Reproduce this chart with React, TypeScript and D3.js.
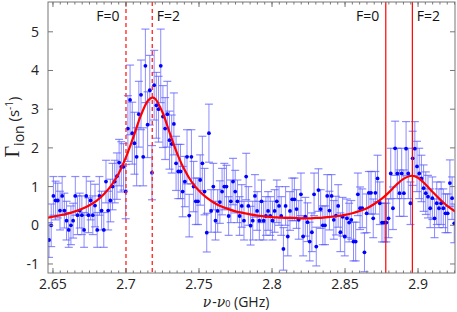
import * as d3 from 'd3';

// scan data: ionisation rate vs detuning (GHz), equal frequency steps
const freqStart = 2.6473;
const freqStep = 0.0015;

const rate = [
  -0.38, 0.0, 0.76, 0.64, 0.64, 0.38, 0.76, 0.38, 0.12, -0.12,
  0.0, 0.12, 0.76, 0.26, 0.38, 0.26, -0.12, 0.76, 0.26, 0.64,
  0.26, 0.51, -0.12, 0.76, 0.38, -0.12, 1.13, 0.38, 0.64, 1.0,
  1.13, 1.27, 1.62, 1.51, 1.51, 0.87, 2.5, 3.24, 2.38, 2.12,
  1.77, 2.87, 3.37, 1.77, 4.12, 2.6, 3.49, 1.36, 3.62, 3.1,
  3.0, 4.12, 2.81, 2.5, 2.87, 2.2, 2.1, 2.62, 1.6, 1.39,
  1.39, 0.87, 1.13, 1.77, 0.25, 1.77, 1.0, 0.62, 0.62, 1.17,
  1.6, 0.87, -0.19, 2.38, 0.37, 1.0, 0.12, 0.37, 0.6, 0.87,
  1.0, 1.0, 0.24, 0.62, 1.13, 0.87, 0.62, 0.24, 0.5, 0.12,
  1.26, 0.5, -0.01, 0.12, 0.76, 0.37, 0.12, 0.62, 0.12, 0.24,
  0.37, 0.24, 0.12, 0.37, 0.62, 0.5, 0.24, -0.61, 0.5, -0.29,
  0.37, 0.67, 0.67, 0.42, 0.14, 0.8, -0.29, 0.22, 0.08, -0.42,
  -0.18, 0.8, -0.55, 0.91, 0.42, 0.0, 0.0, 0.76, 0.38, 0.76,
  0.14, 0.25, 0.5, -0.18, 0.22, -0.29, 0.18, 0.07, 0.14, -0.42,
  -0.42, 0.8, 0.44, 0.44, -0.7, 0.31, 0.84, 0.84, 0.18, 0.84,
  1.21, 0.57, 0.07, 0.07, 0.07, 0.18, 1.34, 0.44, 1.99, 1.34,
  0.83, 1.34, 0.83, 1.98, 1.34, 0.57, 1.73, 1.98, 1.52, 1.34,
  1.21, 0.96, 0.83, 0.74, 0.44, 0.7, 0.18, 0.57, 0.44, 0.57,
  0.44, 0.31, 0.31, 1.09, 0.7, 0.05,
];

const rateErr = [
  0.45, 0.55, 0.5, 0.5, 0.45, 0.5, 0.5, 0.45, 0.5, 0.45,
  0.5, 0.45, 0.5, 0.5, 0.45, 0.5, 0.45, 0.5, 0.45, 0.5,
  0.5, 0.55, 0.45, 0.5, 0.5, 0.45, 0.55, 0.5, 0.55, 0.6,
  0.55, 0.6, 0.6, 0.65, 0.6, 0.7, 0.85, 0.9, 0.8, 0.8,
  0.75, 0.85, 0.9, 0.75, 0.95, 0.85, 0.9, 0.7, 0.9, 0.85,
  0.85, 0.95, 0.8, 0.8, 0.85, 0.75, 0.75, 0.8, 0.7, 0.7,
  0.7, 0.65, 0.65, 0.7, 0.55, 0.7, 0.65, 0.6, 0.6, 0.65,
  0.7, 0.6, 0.5, 0.75, 0.55, 0.6, 0.5, 0.55, 0.55, 0.6,
  0.6, 0.55, 0.5, 0.55, 0.6, 0.55, 0.55, 0.5, 0.55, 0.5,
  0.6, 0.5, 0.5, 0.5, 0.55, 0.5, 0.5, 0.55, 0.5, 0.5,
  0.5, 0.5, 0.5, 0.55, 0.55, 0.5, 0.5, 0.55, 0.5, 0.5,
  0.5, 0.55, 0.55, 0.5, 0.5, 0.55, 0.5, 0.5, 0.5, 0.5,
  0.5, 0.55, 0.5, 0.55, 0.5, 0.5, 0.5, 0.55, 0.5, 0.55,
  0.5, 0.5, 0.55, 0.5, 0.5, 0.5, 0.5, 0.5, 0.5, 0.5,
  0.5, 0.55, 0.55, 0.5, 0.5, 0.5, 0.55, 0.55, 0.5, 0.55,
  0.6, 0.55, 0.5, 0.5, 0.5, 0.5, 0.65, 0.55, 0.7, 0.65,
  0.6, 0.65, 0.6, 0.7, 0.65, 0.55, 0.7, 0.7, 0.65, 0.65,
  0.6, 0.6, 0.55, 0.55, 0.5, 0.55, 0.5, 0.55, 0.5, 0.55,
  0.5, 0.5, 0.5, 0.6, 0.55, 0.5,
];

// fitted double-Lorentzian, sampled
const fitFreq = [
  2.645, 2.65, 2.655, 2.66, 2.665, 2.67, 2.675, 2.68, 2.685, 2.69,
  2.695, 2.7, 2.705, 2.71, 2.715, 2.718, 2.72, 2.725, 2.73, 2.735,
  2.74, 2.745, 2.75, 2.755, 2.76, 2.765, 2.77, 2.775, 2.78, 2.785,
  2.79, 2.795, 2.8, 2.805, 2.81, 2.815, 2.82, 2.825, 2.83, 2.835,
  2.84, 2.845, 2.85, 2.855, 2.86, 2.865, 2.87, 2.875, 2.88, 2.885,
  2.89, 2.8955, 2.9, 2.905, 2.91, 2.915, 2.92, 2.925, 2.93,
];
const fitRate = [
  0.19, 0.22, 0.26, 0.3, 0.36, 0.43, 0.52, 0.64, 0.81, 1.03,
  1.34, 1.76, 2.27, 2.82, 3.22, 3.3, 3.27, 2.92, 2.38, 1.86,
  1.44, 1.12, 0.89, 0.72, 0.59, 0.49, 0.42, 0.36, 0.32, 0.28,
  0.25, 0.23, 0.21, 0.2, 0.19, 0.19, 0.18, 0.18, 0.19, 0.2,
  0.22, 0.24, 0.27, 0.31, 0.37, 0.44, 0.55, 0.68, 0.85, 1.04,
  1.2, 1.28, 1.23, 1.06, 0.86, 0.67, 0.5, 0.37, 0.28,
];

// hyperfine markers
const dashedLines = [2.7, 2.718];
const solidLines = [2.8779, 2.8961];
const markerLabels = ['F=0', 'F=2'];

const xTicks = [2.65, 2.7, 2.75, 2.8, 2.85, 2.9];
const yTicks = [-1, 0, 1, 2, 3, 4, 5];

const W = 457;
const H = 312;
const L = 48, R = 455, T = 2, B = 273;

const App = () => {
  const x = d3.scaleLinear().domain([2.6466, 2.9253]).range([L, R]);
  const y = d3.scaleLinear().domain([-1.233, 5.77]).range([B, T]);

  const pts = rate.map((v, i) => ({ f: freqStart + i * freqStep, v, e: rateErr[i] ?? 0.55 }));
  const fit = d3
    .line<number>()
    .x((_, i) => x(fitFreq[i]))
    .y((d) => y(d))
    .curve(d3.curveCatmullRom)(fitRate);

  const minor = d3.range(2.65, 2.926, 0.005);
  const sans = "'Open Sans', Lato, sans-serif";

  return (
    <svg width={W} height={H} style={{ position: 'absolute', left: 0, top: 0 }} fontFamily={sans}>
      <defs>
        <clipPath id='plotClip'>
          <rect x={L} y={T} width={R - L} height={B - T} />
        </clipPath>
      </defs>
      <rect width={W} height={H} fill='#fff' />

      <g clipPath='url(#plotClip)'>
        {/* error bars */}
        {pts.map((p, i) => (
          <g key={'e' + i} stroke='#5c5cff' strokeOpacity={0.7}>
            <line x1={x(p.f)} x2={x(p.f)} y1={y(p.v - p.e)} y2={y(p.v + p.e)} strokeWidth={1} />
            <line x1={x(p.f) - 4} x2={x(p.f) + 4} y1={y(p.v - p.e)} y2={y(p.v - p.e)} strokeWidth={1.2} />
            <line x1={x(p.f) - 4} x2={x(p.f) + 4} y1={y(p.v + p.e)} y2={y(p.v + p.e)} strokeWidth={1.2} />
          </g>
        ))}
        {pts.map((p, i) => (
          <circle key={'p' + i} cx={x(p.f)} cy={y(p.v)} r={1.9} fill='#0000ff' />
        ))}

        {dashedLines.map((f) => (
          <line key={'d' + f} x1={x(f)} x2={x(f)} y1={T} y2={B} stroke='#ff3030' strokeWidth={1.4} strokeDasharray='4,3' />
        ))}
        {solidLines.map((f) => (
          <line key={'s' + f} x1={x(f)} x2={x(f)} y1={T} y2={B} stroke='#ff0000' strokeWidth={1.2} />
        ))}

        <path d={fit ?? ''} fill='none' stroke='#ff0000' strokeWidth={2.2} />
      </g>

      {/* marker labels */}
      {[dashedLines, solidLines].map((pair, k) => (
        <g key={'lab' + k} fontSize={14} fill='#111'>
          <text x={x(pair[0]) - 6.5} y={21} textAnchor='end'>{markerLabels[0]}</text>
          <text x={x(pair[1]) + 4.5} y={21} textAnchor='start'>{markerLabels[1]}</text>
        </g>
      ))}

      {/* frame and ticks */}
      <rect x={L} y={T} width={R - L} height={B - T} fill='none' stroke='#777' strokeWidth={1} />
      {minor.map((f, i) => (
        <g key={'m' + i} stroke='#777'>
          <line x1={x(f)} x2={x(f)} y1={B} y2={B - 2.5} />
          <line x1={x(f)} x2={x(f)} y1={T} y2={T + 2.5} />
        </g>
      ))}
      {xTicks.map((t) => (
        <g key={'x' + t}>
          <line x1={x(t)} x2={x(t)} y1={B} y2={B - 5} stroke='#777' />
          <line x1={x(t)} x2={x(t)} y1={T} y2={T + 5} stroke='#777' />
          <text x={x(t)} y={289} textAnchor='middle' fontSize={14} fill='#222'>{t}</text>
        </g>
      ))}
      {yTicks.map((t) => (
        <g key={'y' + t}>
          <line x1={L} x2={L + 5} y1={y(t)} y2={y(t)} stroke='#777' />
          <line x1={R} x2={R - 5} y1={y(t)} y2={y(t)} stroke='#777' />
          <text x={39} y={y(t) + 5} textAnchor='end' fontSize={14} fill='#222'>{t}</text>
        </g>
      ))}

      {/* axis titles */}
      <text x={236} y={307} textAnchor='middle' fontSize={14} fill='#222'>
        <tspan fontFamily="'DejaVu Serif', serif" fontStyle='italic'>ν</tspan>
        <tspan dx={1}>-</tspan>
        <tspan fontFamily="'DejaVu Serif', serif" fontStyle='italic'>ν</tspan>
        <tspan fontSize={9}>0</tspan>
        <tspan> (GHz)</tspan>
      </text>
      <text transform='translate(19,127) rotate(-90)' textAnchor='middle' fontSize={15} fill='#222'>
        <tspan fontFamily="'Liberation Serif', serif" fontSize={20}>Γ</tspan>
        <tspan fontSize={14} dy={5}>ion</tspan>
        <tspan dy={-5}> (s</tspan>
        <tspan fontSize={10} dy={-6}>-1</tspan>
        <tspan dy={6}>)</tspan>
      </text>
    </svg>
  );
};

export default App;
